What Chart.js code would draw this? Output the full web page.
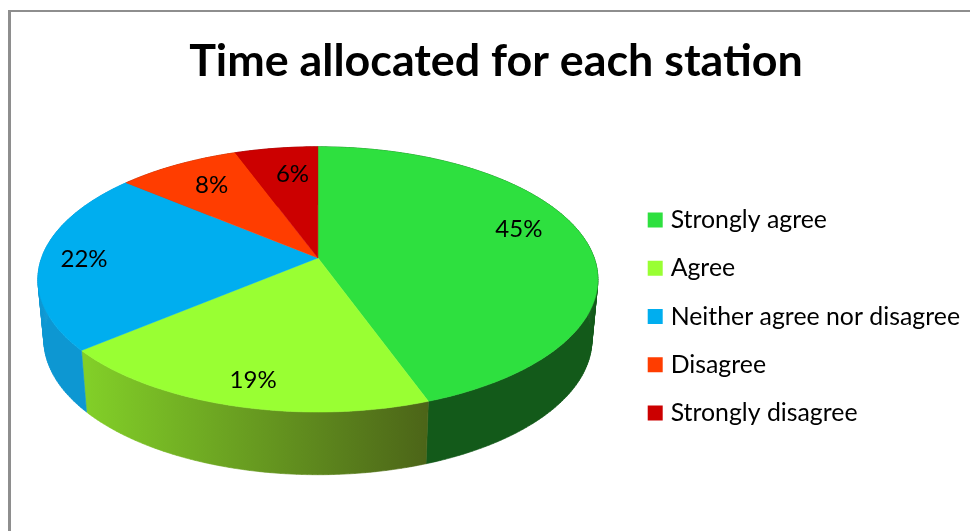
<!DOCTYPE html>
<html>
<head>
<meta charset="utf-8">
<style>
  html, body { margin: 0; padding: 0; background: #fff; overflow: hidden; }
  #frame { position: absolute; left: 8px; top: 10px; width: 990px; height: 540px; border-left: 3px solid #8e8e8e; border-top: 2px solid #8e8e8e; }
  #box { position: absolute; left: 0; top: 0; width: 970px; height: 519px; }
</style>
<script src="https://cdn.jsdelivr.net/npm/chart.js@4/dist/chart.umd.min.js"></script>
</head>
<body>
<div id="frame"><div id="box"><canvas id="chart"></canvas></div></div>
<script>
const titleText = 'Time allocated for each station';
const categories = ['Strongly agree', 'Agree', 'Neither agree nor disagree', 'Disagree', 'Strongly disagree'];
const shares = [44.5, 19.4, 22.2, 8.3, 5.6];

const faceColors = ['#2ee03f', '#99ff33', '#00aeef', '#ff3d00', '#cc0000'];
const wallColors = [['#135f1c', '#135a1a'], ['#4c6518', '#82cf28'], ['#0d97d2', '#0d97d2'], ['#a02800', '#a02800'], ['#800000', '#800000']];

// how far out along each slice the percent label sits, plus small nudges
const labelRadius = [0.75, 0.82, 0.85, 0.75, 0.75];
const labelNudgeX = [1, 3, 1, 2, 7];
const labelNudgeY = [-12, 5, 1, -1, 2];

// view of the tilted disc, relative to the arc centre Chart.js works out
const offsetX = -7.5, offsetY = -63;
const horizon = 12;
const tilt = -0.1623;
const topRim = { rx: 276.3, a: 87.3, drop: 0 };
const lowRim = { rx: 270.4, a: 79.8, drop: 60 };
const legendDrop = 45;

function project(rim, cx, cy, angle, r) {
    const u = Math.cos(angle) * r, v = Math.sin(angle) * r;
    const d = 1 + tilt * v;
    return {
        x: cx + rim.rx * u / d,
        y: (rim.a * v + cy + rim.drop + horizon) / d - horizon
    };
}

function rimPoints(rim, cx, cy, from, to) {
    const pts = [];
    const steps = Math.max(8, Math.ceil((to - from) * 60));
    for (let i = 0; i <= steps; i++) {
        pts.push(project(rim, cx, cy, from + (to - from) * i / steps, 1));
    }
    return pts;
}

const tiltedPie = {
    id: 'tiltedPie',
    afterLayout(chart) {
        chart.legend.top += legendDrop;
        chart.legend.bottom += legendDrop;
    },
    beforeDatasetDraw(chart) {
        const ctx = chart.ctx;
        const arcs = chart.getDatasetMeta(0).data;
        const cx = arcs[0].x + offsetX, cy = arcs[0].y + offsetY;

        // walls first, the top face hides the back half of them
        arcs.forEach((arc, i) => {
            const upper = rimPoints(topRim, cx, cy, arc.startAngle, arc.endAngle);
            const lower = rimPoints(lowRim, cx, cy, arc.startAngle, arc.endAngle);
            const grad = ctx.createLinearGradient(lower[0].x, 0, lower[lower.length - 1].x, 0);
            grad.addColorStop(0, wallColors[i][0]);
            grad.addColorStop(1, wallColors[i][1]);
            ctx.fillStyle = grad;
            ctx.strokeStyle = grad;
            ctx.lineWidth = 0.6;
            // one quad per rim step, so the silhouette joins the two rims
            ctx.beginPath();
            for (let k = 0; k < upper.length - 1; k++) {
                ctx.moveTo(upper[k].x, upper[k].y);
                ctx.lineTo(upper[k + 1].x, upper[k + 1].y);
                ctx.lineTo(lower[k + 1].x, lower[k + 1].y);
                ctx.lineTo(lower[k].x, lower[k].y);
                ctx.closePath();
            }
            ctx.fill();
            ctx.stroke();
        });

        arcs.forEach((arc, i) => {
            const upper = rimPoints(topRim, cx, cy, arc.startAngle, arc.endAngle);
            const apex = project(topRim, cx, cy, 0, 0);
            ctx.beginPath();
            ctx.moveTo(apex.x, apex.y);
            upper.forEach(p => ctx.lineTo(p.x, p.y));
            ctx.closePath();
            ctx.fillStyle = faceColors[i];
            ctx.strokeStyle = faceColors[i];
            ctx.lineWidth = 0.5;
            ctx.fill();
            ctx.stroke();
        });

        ctx.save();
        ctx.font = '24px Lato';
        ctx.fillStyle = '#000';
        ctx.textAlign = 'center';
        ctx.textBaseline = 'middle';
        arcs.forEach((arc, i) => {
            const mid = (arc.startAngle + arc.endAngle) / 2;
            const p = project(topRim, cx, cy, mid, labelRadius[i]);
            ctx.fillText(Math.round(shares[i]) + '%', p.x + labelNudgeX[i], p.y + labelNudgeY[i]);
        });
        ctx.restore();
        return false;
    }
};

const legendLabels = Chart.overrides.pie.plugins.legend.labels.generateLabels;

new Chart(document.getElementById('chart'), {
    type: 'pie',
    data: {
        labels: categories,
        datasets: [{ data: shares, backgroundColor: faceColors, borderWidth: 0 }]
    },
    options: {
        responsive: true,
        maintainAspectRatio: false,
        animation: false,
        events: [],
        layout: { padding: { left: 11, right: 11, top: 0, bottom: 0 } },
        plugins: {
            title: {
                display: true,
                text: titleText,
                color: '#000',
                font: { family: 'Lato', size: 44.8, weight: 'bold' },
                padding: { top: 23, bottom: 22 }
            },
            tooltip: { enabled: false },
            legend: {
                position: 'right',
                labels: {
                    color: '#000',
                    font: { family: 'Lato', size: 24.85 },
                    boxWidth: 6,
                    boxHeight: 6,
                    padding: 23.4,
                    // small box with a thick same-colour stroke: a 15px swatch, text close to it
                    generateLabels(chart) {
                        return legendLabels(chart).map(l => ({ ...l, lineWidth: 9, strokeStyle: l.fillStyle }));
                    }
                }
            }
        }
    },
    plugins: [tiltedPie]
});
</script>
</body>
</html>
